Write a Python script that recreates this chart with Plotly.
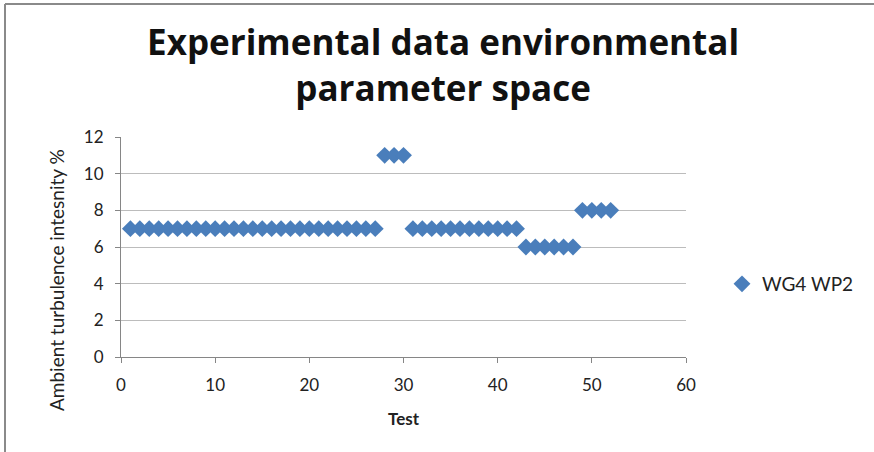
import plotly.graph_objects as go

# Test numbers and measured ambient turbulence intensity (%)
tests = list(range(1, 53))
turbulence = ([7] * 27 + [11] * 3 + [7] * 12 + [6] * 6 + [8] * 4)

series_name = "WG4 WP2"
x_ticks = [0, 10, 20, 30, 40, 50, 60]
y_ticks = [0, 2, 4, 6, 8, 10, 12]

W, H = 874, 452
ML, MR, MT, MB = 121, 188, 137, 95
PW, PH = W - ML - MR, H - MT - MB


def px_x(px):
    return (px - ML) / PW


def px_y(py):
    return 1 - (py - MT) / PH


fig = go.Figure()
fig.add_trace(go.Scatter(
    x=tests, y=turbulence, mode="markers", name=series_name,
    marker=dict(symbol="diamond", size=13, color="#4a7ebb"),
))

axis_font = dict(family="Lato, Open Sans, sans-serif", size=17, color="#222")

fig.update_layout(
    width=W, height=H,
    margin=dict(l=ML, r=MR, t=MT, b=MB),
    paper_bgcolor="white", plot_bgcolor="white",
    font=dict(family="Lato, Open Sans, sans-serif", color="#111"),
    title=dict(
        text="<b>Experimental data environmental<br>parameter space</b>",
        x=0.507, xanchor="center", y=0.878, yanchor="top",
        font=dict(family="Open Sans, sans-serif", size=35, color="#111"),
    ),
    showlegend=True,
    legend=dict(x=px_x(722), y=px_y(284), xanchor="left", yanchor="middle",
                itemwidth=30,
                font=dict(size=19, color="#222"), bgcolor="rgba(0,0,0,0)"),
    xaxis=dict(
        range=[0, 60], tickvals=x_ticks, showgrid=False, zeroline=False,
        showline=True, linecolor="#868686", linewidth=1,
        ticks="outside", ticklen=5, tickcolor="#868686",
        tickfont=axis_font, ticklabelstandoff=8,
        title=dict(text="<b>Test</b>", font=dict(size=17, color="#222"), standoff=18),
    ),
    yaxis=dict(
        range=[0, 12], tickvals=y_ticks, showgrid=True, gridcolor="#bcbcbc",
        gridwidth=1, zeroline=False,
        showline=True, linecolor="#868686", linewidth=1,
        ticks="outside", ticklen=5, tickcolor="#868686",
        tickfont=axis_font, ticklabelstandoff=8,
    ),
    annotations=[dict(
        text="Ambient turbulence intesnity %", textangle=-90,
        x=px_x(56), y=px_y(280), xref="paper", yref="paper",
        xanchor="center", yanchor="middle", showarrow=False,
        font=dict(size=19, color="#222"),
    )],
    shapes=[
        dict(type="line", xref="paper", yref="paper",
             x0=px_x(5), x1=px_x(5), y0=px_y(4), y1=px_y(460),
             line=dict(color="#8a8a8a", width=2)),
        dict(type="line", xref="paper", yref="paper",
             x0=px_x(5), x1=px_x(880), y0=px_y(4), y1=px_y(4),
             line=dict(color="#8a8a8a", width=2)),
    ],
)

fig.write_html("out.html")
